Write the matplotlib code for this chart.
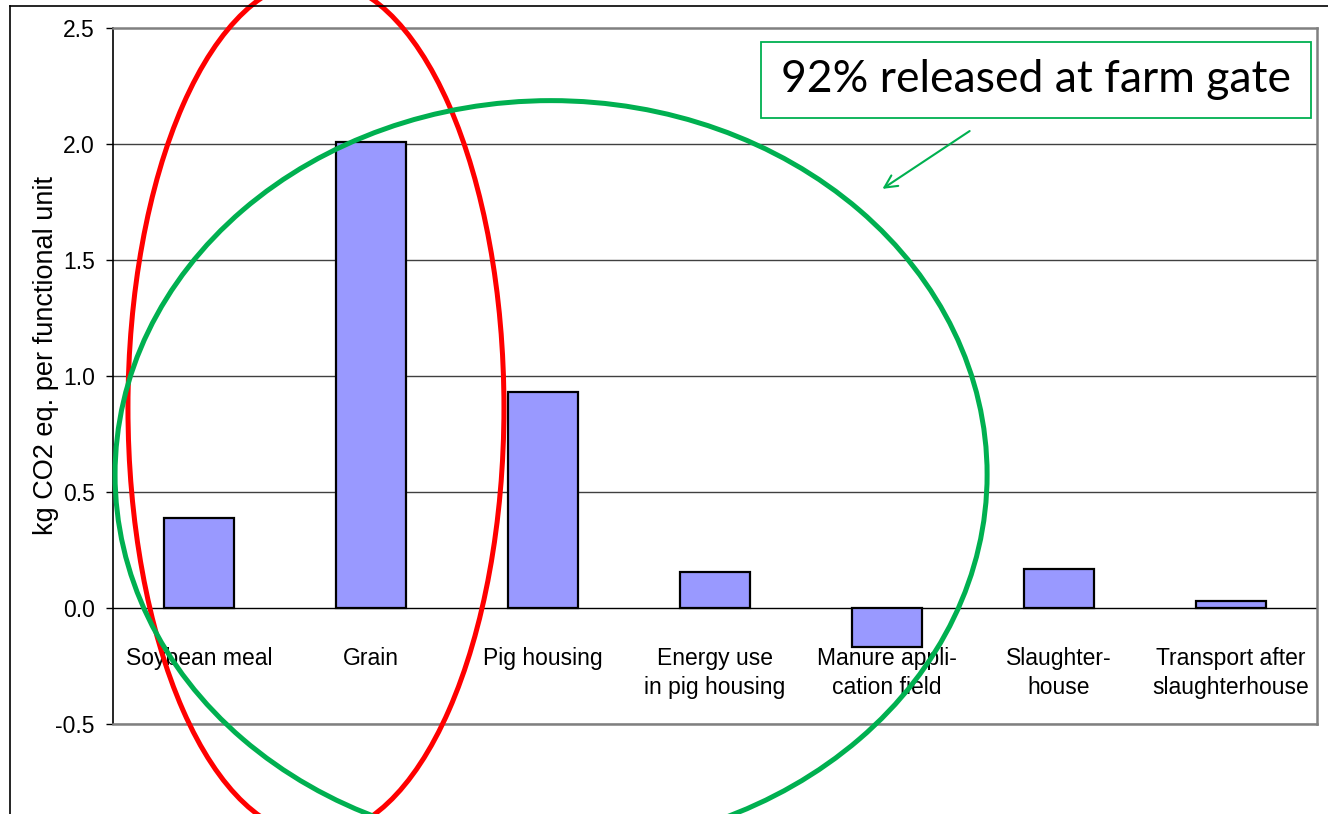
import matplotlib
matplotlib.use("Agg")
import matplotlib.pyplot as plt
from matplotlib.patches import Ellipse, Rectangle
from matplotlib.lines import Line2D

plt.rcParams['font.family'] = ['Liberation Sans', 'DejaVu Sans']

# data
categories = ['Soybean meal', 'Grain', 'Pig housing', 'Energy use\nin pig housing',
              'Manure appli-\ncation field', 'Slaughter-\nhouse',
              'Transport after\nslaughterhouse']
emissions = [0.39, 2.01, 0.93, 0.155, -0.17, 0.17, 0.03]
yticks = [-0.5, 0.0, 0.5, 1.0, 1.5, 2.0, 2.5]
ylabel = 'kg CO2 eq. per functional unit'
note = '92% released at farm gate'

fig = plt.figure(figsize=(13.28, 8.14), dpi=100)
ax = fig.add_axes([113 / 1328, 1 - 724 / 814, 1204 / 1328, 696 / 814])

x = list(range(len(categories)))
ax.bar(x, emissions, width=0.41, color='#9999FF', edgecolor='black',
       linewidth=1.6, zorder=3)

ax.set_xlim(-0.5, 6.5)
ax.set_ylim(-0.5, 2.5)
ax.set_yticks(yticks)
ax.set_yticklabels(['%.1f' % v for v in yticks])
ax.set_xticks([])
ax.tick_params(axis='y', length=5, width=1, pad=8, labelsize=16.5, colors='black')
ax.set_ylabel(ylabel, fontsize=19.5)
ax.yaxis.set_label_coords(-0.045, 0.53)

for v in yticks:
    if v == 0:
        ax.axhline(v, color='black', lw=1.0, zorder=2)
    elif v != 2.5:
        ax.axhline(v, color='#404040', lw=1.0, zorder=1)

for s in ['top', 'right', 'bottom']:
    ax.spines[s].set_color('#808080')
    ax.spines[s].set_linewidth(1.8)
ax.spines['left'].set_color('black')
ax.spines['left'].set_linewidth(1.2)

# category labels under the zero line
for xi, lab in zip(x, categories):
    ax.text(xi, -0.168, lab, ha='center', va='top', fontsize=16.5,
            linespacing=1.35, zorder=4)

# highlight ellipses
ax.add_patch(Ellipse((0.68, 0.864), 2.186, 3.69, fill=False, edgecolor='#FF0000',
                     lw=3.6, zorder=5, clip_on=False))
ax.add_patch(Ellipse((2.047, 0.575), 5.07, 3.224, fill=False, edgecolor='#00B050',
                     lw=3.6, zorder=5, clip_on=False))

# note box and arrow
ax.add_patch(Rectangle((0.538, 0.871), 0.457, 0.109, transform=ax.transAxes,
                       fill=True, facecolor='white', edgecolor='#00B050',
                       lw=1.3, zorder=6, clip_on=False))
ax.text(0.7665, 0.9255, note, transform=ax.transAxes, ha='center', va='center',
        fontsize=32, family=['Lato', 'DejaVu Sans'], zorder=7)
ax.annotate('', xy=(3.96, 1.80), xytext=(4.494, 2.0625),
            arrowprops=dict(arrowstyle='->,head_length=0.9,head_width=0.45',
                            color='#00B050', lw=1.5), zorder=6)

# outer frame
fig.add_artist(Line2D([10 / 1328, 10 / 1328], [0, 1 - 6 / 814], color='black', lw=1.2))
fig.add_artist(Line2D([10 / 1328, 1], [1 - 6 / 814, 1 - 6 / 814], color='black', lw=1.2))

fig.savefig('out.png', dpi=100)
